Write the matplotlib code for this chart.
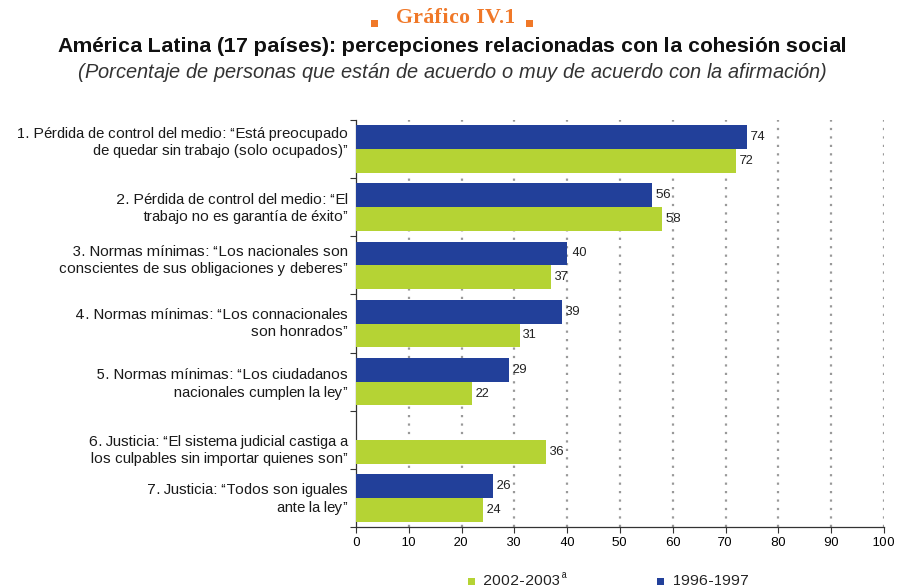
import matplotlib
matplotlib.use("Agg")
import matplotlib.pyplot as plt
from matplotlib.patches import Rectangle
import numpy as np

categories = [
    "1. Pérdida de control del medio: \u201cEstá preocupado\nde quedar sin trabajo (solo ocupados)\u201d",
    "2. Pérdida de control del medio: \u201cEl\ntrabajo no es garantía de éxito\u201d",
    "3. Normas mínimas: \u201cLos nacionales son\nconscientes de sus obligaciones y deberes\u201d",
    "4. Normas mínimas: \u201cLos connacionales\nson honrados\u201d",
    "5. Normas mínimas: \u201cLos ciudadanos\nnacionales cumplen la ley\u201d",
    "6. Justicia: \u201cEl sistema judicial castiga a\nlos culpables sin importar quienes son\u201d",
    "7. Justicia: \u201cTodos son iguales\nante la ley\u201d",
]
values_1996 = [74, 56, 40, 39, 29, None, 26]
values_2002 = [72, 58, 37, 31, 22, 36, 24]
series_labels = ["2002-2003", "1996-1997"]
xticks = list(range(0, 101, 10))

# layout only: vertical nudge of each category label (in group units)
label_nudge = [-0.11, 0.02, -0.08, 0.0, 0.04, 0.18, 0.02]

BLUE = "#22409A"
GREEN = "#B5D334"
ORANGE = "#F07828"

plt.rcParams['font.family'] = ['Liberation Sans', 'DejaVu Sans']
plt.rcParams['text.hinting_factor'] = 1

W, H = 897, 587
fig = plt.figure(figsize=(W / 100, H / 100), dpi=100)
ax = fig.add_axes([356 / W, 1 - 527 / H, 528 / W, 407 / H])

def fx(px):
    return px / W

def fy(py):
    return 1 - py / H

y = np.arange(len(categories))
h = 0.41
for i in range(len(categories)):
    b = values_1996[i]
    g = values_2002[i]
    if b is not None:
        ax.barh(y[i] - h / 2, b, height=h, color=BLUE, zorder=3)
        ax.text(b + 0.7, y[i] - h / 2, str(b), va="center", ha="left", fontsize=9, color="#222222")
    if g is not None:
        ax.barh(y[i] + h / 2, g, height=h, color=GREEN, zorder=3)
        ax.text(g + 0.7, y[i] + h / 2, str(g), va="center", ha="left", fontsize=9, color="#222222")

ax.set_xlim(0, 100)
ax.set_ylim(len(categories) - 0.5, -0.5)
ax.set_xticks(xticks)
ax.set_xticklabels([str(t) for t in xticks], fontsize=9)
ax.set_yticks(np.arange(len(categories) + 1) - 0.5)
ax.set_yticklabels([])
ax.tick_params(axis="y", which="major", length=4, width=0.8, color="#333333")
ax.tick_params(axis="x", length=4, width=0.8, color="#333333")

for i, lab in enumerate(categories):
    ax.text(-0.015, y[i] + label_nudge[i], lab, transform=ax.get_yaxis_transform(),
            ha="right", va="center", fontsize=11, linespacing=1.3, color="#1a1a1a")

for t in xticks[1:]:
    ax.axvline(t, color="#999999", linestyle=(0, (1, 2.8)), linewidth=1.6, zorder=1)

for s in ["top", "right"]:
    ax.spines[s].set_visible(False)
for s in ["left", "bottom"]:
    ax.spines[s].set_color("#333333")
    ax.spines[s].set_linewidth(0.9)

# Titles
fig.text(fx(455), fy(18), "Gráfico IV.1", ha="center", va="center", fontsize=15.5,
         fontweight="bold", color=ORANGE, family=["Liberation Serif", "DejaVu Serif"])
for x0 in (371, 526):
    fig.patches.append(Rectangle((fx(x0), fy(27)), 7 / W, 7 / H, transform=fig.transFigure,
                                 facecolor=ORANGE, edgecolor="none"))
fig.text(0.505, fy(46), "América Latina (17 países): percepciones relacionadas con la cohesión social",
         ha="center", va="center", fontsize=14.85, fontweight="bold", color="#111111")
fig.text(0.505, fy(72), "(Porcentaje de personas que están de acuerdo o muy de acuerdo con la afirmación)",
         ha="center", va="center", fontsize=14.45, style="italic", color="#333333")

# Legend
for x0, col in ((468, GREEN), (657, BLUE)):
    fig.patches.append(Rectangle((fx(x0), fy(585)), 7 / W, 7 / H, transform=fig.transFigure,
                                 facecolor=col, edgecolor="none"))
fig.text(fx(483), fy(581), series_labels[0], ha="left", va="center", fontsize=10.6, color="#222222")
fig.text(fx(562), fy(575), "a", ha="left", va="center", fontsize=7, color="#222222")
fig.text(fx(673), fy(581), series_labels[1], ha="left", va="center", fontsize=10.6, color="#222222")

fig.savefig("out.png", dpi=100)
